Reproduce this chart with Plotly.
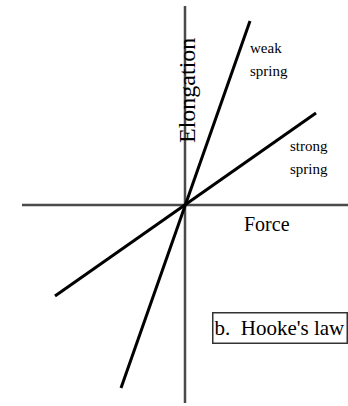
import plotly.graph_objects as go

# Schematic data (arbitrary units, origin at 0,0)
weak_force = [-64, 65]
weak_elong = [-183, 184]
strong_force = [-130, 131]
strong_elong = [-91, 92]
force_axis = [-163, 163]
elong_axis = [-198, 199]

serif = "Liberation Serif, Times New Roman, serif"

fig = go.Figure()
fig.add_trace(go.Scatter(x=force_axis, y=[0, 0], mode="lines",
                         line=dict(color="#4a4a4a", width=2.5), hoverinfo="skip"))
fig.add_trace(go.Scatter(x=[0, 0], y=elong_axis, mode="lines",
                         line=dict(color="#4a4a4a", width=2.5), hoverinfo="skip"))
fig.add_trace(go.Scatter(x=weak_force, y=weak_elong, mode="lines",
                         line=dict(color="#000000", width=3), hoverinfo="skip"))
fig.add_trace(go.Scatter(x=strong_force, y=strong_elong, mode="lines",
                         line=dict(color="#000000", width=3), hoverinfo="skip"))

ann = []
ann.append(dict(x=2, y=114, text="Elongation", textangle=-90, showarrow=False,
                font=dict(family=serif, size=24, color="#000")))
ann.append(dict(x=81, y=157, text="weak", showarrow=False,
                font=dict(family=serif, size=15, color="#000")))
ann.append(dict(x=84, y=134, text="spring", showarrow=False,
                font=dict(family=serif, size=15, color="#000")))
ann.append(dict(x=124, y=59, text="strong", showarrow=False,
                font=dict(family=serif, size=15, color="#000")))
ann.append(dict(x=124, y=36, text="spring", showarrow=False,
                font=dict(family=serif, size=15, color="#000")))
ann.append(dict(x=82, y=-19, text="Force", showarrow=False,
                font=dict(family=serif, size=20, color="#000")))
ann.append(dict(x=95, y=-123, text="b.  Hooke's law", showarrow=False,
                font=dict(family=serif, size=21, color="#000"),
                bordercolor="#333", borderwidth=1.5, borderpad=1,
                width=131, height=27, align="left"))

fig.update_layout(
    width=348, height=406,
    margin=dict(l=0, r=0, t=0, b=0),
    paper_bgcolor="white", plot_bgcolor="white",
    showlegend=False,
    xaxis=dict(range=[-185, 163], visible=False, fixedrange=True),
    yaxis=dict(range=[-201, 205], visible=False, fixedrange=True),
    annotations=ann,
)
fig.write_html("out.html", config={"displayModeBar": False},
               post_script="document.body.style.margin='0';document.body.style.overflow='hidden';")
